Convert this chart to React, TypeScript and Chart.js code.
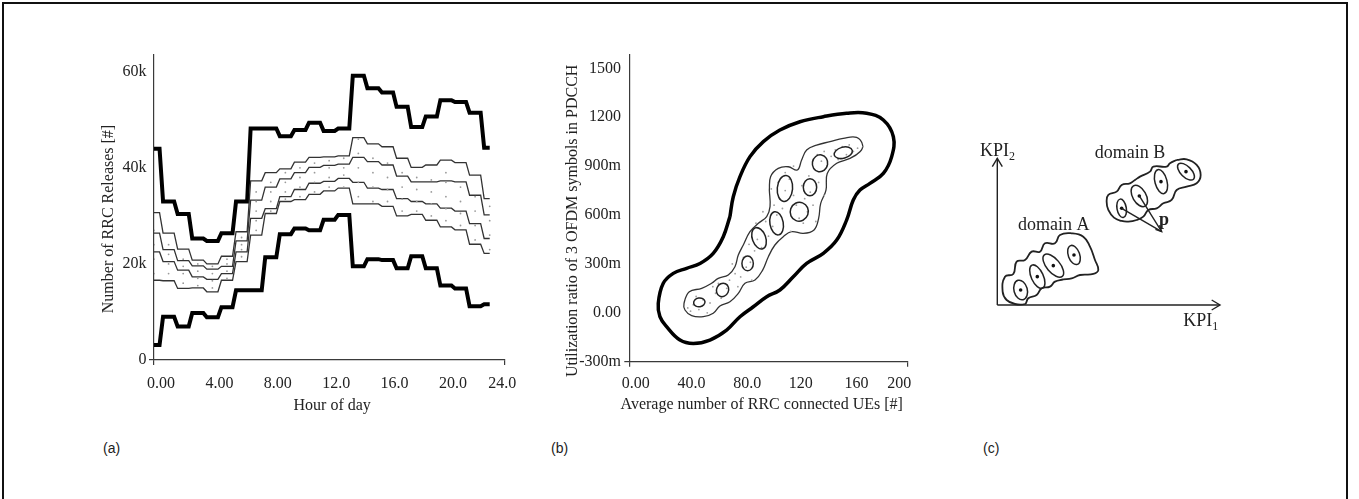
import React, { useEffect, useRef } from "react";
import { Chart, registerables } from "chart.js";

Chart.register(...registerables);

const SERIF = '"Liberation Serif", "Times New Roman", Times, serif';
const SANS = '"Liberation Sans", Arial, Helvetica, sans-serif';
const TEXT = "#222";
const AXIS = "#3a3a3a";

// ---------------- Panel (a): RRC releases per hour (thousands) ----------------
const HOURS = [0, 1, 2, 3, 4, 5, 6, 7, 8, 9, 10, 11, 12, 13, 14, 15, 16, 17, 18, 19, 20, 21, 22, 23];
const RELEASES_MAX = [44.0, 33.0, 30.4, 25.3, 24.8, 26.4, 33.0, 48.2, 48.2, 46.6, 47.9, 49.4, 47.7, 48.2, 59.2, 56.6, 55.7, 52.7, 48.5, 50.7, 54.1, 53.7, 51.5, 44.2];
const RELEASES_UPPER = [30.7, 26.4, 23.1, 20.8, 20.0, 21.6, 26.7, 37.3, 39.0, 39.8, 41.2, 42.2, 42.3, 42.5, 46.3, 45.0, 44.4, 42.0, 40.1, 40.6, 41.6, 41.1, 38.5, 33.6];
const RELEASES_UPPER_MID = [26.4, 23.0, 20.7, 19.6, 18.9, 19.5, 24.8, 33.3, 36.0, 37.7, 39.0, 40.1, 40.5, 40.8, 42.2, 41.3, 40.6, 38.3, 37.1, 37.1, 37.3, 37.1, 34.3, 30.2];
const RELEASES_LOWER_MID = [22.5, 20.5, 18.7, 17.3, 16.8, 18.0, 22.5, 29.5, 31.5, 34.0, 35.5, 36.8, 37.2, 37.8, 37.0, 35.8, 35.5, 33.6, 33.0, 32.5, 31.6, 31.0, 28.4, 25.3];
const RELEASES_LOWER = [16.6, 16.5, 14.9, 15.0, 14.2, 16.6, 20.5, 26.0, 30.5, 33.0, 33.4, 34.5, 35.2, 35.8, 32.5, 32.5, 32.0, 30.0, 30.3, 29.1, 27.7, 27.1, 24.1, 22.2];
const RELEASES_MIN = [3.1, 9.0, 7.0, 9.8, 8.9, 11.0, 14.5, 14.5, 21.4, 26.2, 27.4, 27.0, 29.2, 30.2, 19.5, 21.0, 20.8, 19.1, 21.6, 19.1, 15.5, 14.9, 11.2, 11.6];
const RELEASES_SAMPLES = [
  [18, 21, 24, 27], [18, 20, 22, 24], [16, 18, 19.5, 21], [15.5, 17, 18.5, 20],
  [15, 16.5, 18, 19.5], [17, 18.5, 20, 21], [21.5, 23, 24, 25.5], [27, 29, 31, 33, 35],
  [31, 33, 35, 37], [33.5, 35, 37, 39], [34, 36, 38, 40], [35, 37, 39, 41],
  [36, 38, 40, 41.5], [36, 38.5, 40, 42], [34, 37, 40, 43, 46], [33, 36, 39, 42],
  [33, 35.5, 38, 41], [31, 33.5, 36, 39], [31, 33, 35.5, 38], [30, 32.5, 35, 37.5],
  [29, 31.5, 34, 37, 39], [28, 30.5, 33, 36], [25, 28, 31, 34], [23, 26, 29, 32],
];
const HOUR_TICKS = [0, 4, 8, 12, 16, 20, 24];
const HOUR_TICK_LABELS = ["0.00", "4.00", "8.00", "12.0", "16.0", "20.0", "24.0"];
const RELEASE_TICKS = [0, 20, 40, 60];
const RELEASE_TICK_LABELS = ["0", "20k", "40k", "60k"];

// ---------------- Panel (b): density contours ----------------
const UE_TICKS = [0, 40, 80, 120, 160, 200];
const UE_TICK_LABELS = ["0.00", "40.0", "80.0", "120", "160", "200"];
const UTIL_TICKS = [-0.3, 0, 0.3, 0.6, 0.9, 1.2, 1.5];
const UTIL_TICK_LABELS = ["-300m", "0.00", "300m", "600m", "900m", "1200", "1500"];
const OUTER_CONTOUR: [number, number][] = [
  [72.3, 0.59], [74.7, 0.712], [79.5, 0.835], [86.7, 0.958], [96.3, 1.05], [108.2, 1.121], [122.6, 1.172],
  [139.4, 1.203], [156.1, 1.224], [170.5, 1.224], [182.5, 1.183], [189.7, 1.08], [188.5, 0.958], [182.5, 0.855],
  [172.9, 0.794], [165.7, 0.753], [160.9, 0.692], [156.1, 0.569], [149.0, 0.446], [139.4, 0.365], [127.4, 0.303],
  [117.8, 0.221], [108.2, 0.14], [98.7, 0.099], [89.1, 0.037], [79.5, -0.024], [69.9, -0.106], [57.9, -0.167],
  [46.0, -0.188], [36.4, -0.167], [26.8, -0.085], [22.0, -0.024], [20.8, 0.058], [24.4, 0.181], [31.6, 0.242],
  [41.2, 0.273], [50.8, 0.303], [60.3, 0.365], [67.5, 0.467], [72.3, 0.59],
];
const INNER_CONTOUR: [number, number][] = [
  [100.6, 0.753], [101.5, 0.835], [107.0, 0.886], [114.2, 0.896], [120.7, 0.876], [123.8, 0.937], [127.4, 0.999],
  [134.6, 1.029], [144.2, 1.05], [153.7, 1.07], [163.3, 1.076], [167.6, 1.029], [165.7, 0.988], [158.5, 0.947],
  [149.0, 0.917], [142.2, 0.855], [141.3, 0.753], [137.5, 0.671], [136.0, 0.579], [132.7, 0.508], [125.0, 0.487],
  [116.6, 0.498], [110.6, 0.467], [104.6, 0.416], [99.9, 0.344], [95.8, 0.262], [90.3, 0.201], [83.1, 0.181],
  [78.3, 0.119], [72.3, 0.068], [65.1, 0.042], [60.3, -0.003], [53.2, -0.024], [44.8, -0.018], [40.0, 0.017],
  [39.3, 0.058], [43.1, 0.129], [52.0, 0.15], [59.1, 0.181], [63.9, 0.211], [71.1, 0.232], [75.9, 0.283],
  [78.3, 0.354], [81.9, 0.416], [86.7, 0.498], [92.7, 0.549], [98.7, 0.59], [101.1, 0.651], [100.6, 0.753],
];
const CORE_X = [50.3, 67.0, 85.0, 93.2, 105.8, 111.8, 122.1, 129.8, 137.0, 153.7];
const CORE_Y = [0.064, 0.14, 0.303, 0.457, 0.549, 0.763, 0.62, 0.77, 0.917, 0.982];
const CORE_RX = [4.1, 4.3, 4.1, 4.8, 4.8, 5.5, 6.5, 4.8, 5.5, 6.7];
const CORE_RY = [0.027, 0.042, 0.045, 0.068, 0.072, 0.08, 0.058, 0.052, 0.052, 0.034];
const CORE_TILT = [-10, 25, 0, -20, -10, 5, 20, 0, 10, -15];
const UE_POINTS: [number, number][] = [
  [42, 0.03], [46, 0.05], [50, 0.02], [53, 0.08], [48, 0.1], [58, 0.06], [62, 0.12], [66, 0.09], [70, 0.15],
  [64, 0.18], [72, 0.2], [76, 0.24], [80, 0.22], [84, 0.28], [82, 0.34], [87, 0.31], [90, 0.38], [86, 0.42],
  [92, 0.45], [95, 0.4], [96, 0.5], [100, 0.47], [98, 0.56], [103, 0.53], [106, 0.6], [104, 0.66], [108, 0.7],
  [110, 0.64], [112, 0.75], [107, 0.8], [115, 0.82], [118, 0.72], [120, 0.66], [122, 0.58], [125, 0.55],
  [128, 0.62], [126, 0.7], [124, 0.78], [130, 0.74], [132, 0.66], [129, 0.84], [133, 0.88], [136, 0.8],
  [138, 0.93], [135, 0.97], [140, 0.99], [142, 0.9], [145, 0.96], [148, 1.0], [150, 0.94], [153, 1.02],
  [156, 0.97], [158, 1.03], [161, 0.99], [164, 1.01], [168, 1.02], [118, 0.9], [112, 0.86], [102, 0.76],
  [96, 0.62], [91, 0.55], [88, 0.2], [78, 0.16], [74, 0.3], [56, 0.0], [44, 0.01], [60, 0.16], [140, 0.72],
  [134, 0.56], [116, 0.5],
];

// ---------------- Panel (c): schematic (abstract units) ----------------
const KPI2_AXIS: [number, number][] = [[0, 0], [0, 440]];
const KPI1_AXIS: [number, number][] = [[0, 0], [668, 0]];
const KPI2_HEAD: [number, number][] = [[-15, 415], [0, 440], [15, 415]];
const KPI1_HEAD: [number, number][] = [[643, 15], [668, 0], [643, -15]];
const DOMAIN_A: [number, number][] = [
  [198, 77], [173, 70], [158, 55], [133, 50], [118, 30], [93, 20], [83, 3], [53, 3], [28, 15], [16, 40],
  [23, 85], [48, 93], [58, 130], [83, 135], [103, 160], [128, 160], [143, 185], [173, 185], [188, 210],
  [223, 215], [258, 205], [278, 175], [293, 135], [303, 105], [288, 93], [248, 90], [223, 80], [198, 77],
];
const DOMAIN_B: [number, number][] = [
  [538, 435], [568, 437], [598, 420], [610, 390], [598, 365], [568, 355], [538, 345], [523, 315], [498, 305],
  [478, 290], [453, 285], [438, 265], [418, 255], [393, 250], [373, 252], [350, 262], [333, 285], [328, 310],
  [333, 330], [358, 340], [373, 360], [398, 365], [413, 375], [428, 385], [458, 400], [468, 415], [508, 415],
  [518, 425], [538, 435],
];
const STATE_X = [70, 120, 168, 230, 373, 426, 491, 566];
const STATE_Y = [45, 85, 118, 150, 290, 327, 370, 400];
const STATE_RX = [20, 18, 20, 17, 14, 20, 18, 16];
const STATE_RY = [30, 38, 42, 30, 28, 35, 37, 32];
const STATE_TILT = [-15, -25, -40, -20, -10, -30, -15, -45];
const P_TIP: [number, number] = [493, 220];
const P_HEAD: [number, number][] = [[474.3, 227.1], [493, 220], [486.4, 238.9]];

const pts = (arr: [number, number][]) => arr.map(([x, y]) => ({ x, y }));

function stepPoints(values: number[]) {
  const half = 0.38;
  const first = HOURS[0];
  const last = HOURS[HOURS.length - 1];
  const out: { x: number; y: number }[] = [];
  values.forEach((v, i) => {
    const h = HOURS[i];
    out.push({ x: Math.max(first, h - half), y: v });
    out.push({ x: Math.min(last, h + half), y: v });
  });
  return out;
}

function endTicks(show: (v: number) => boolean) {
  return {
    display: true,
    drawOnChartArea: false,
    drawTicks: true,
    tickLength: 5,
    lineWidth: 1.2,
    color: (c: any) => (c.tick && show(c.tick.value) ? AXIS : "rgba(0,0,0,0)"),
  };
}

function axisTitles(xText: string, xdx: number, xdy: number, yText: string, ydx: number, ydy: number) {
  return {
    id: "axisTitles",
    afterDraw(chart: any) {
      const { ctx, chartArea: a } = chart;
      ctx.save();
      ctx.fillStyle = TEXT;
      ctx.font = `16px ${SERIF}`;
      ctx.textAlign = "center";
      ctx.textBaseline = "middle";
      ctx.fillText(xText, (a.left + a.right) / 2 + xdx, a.bottom + xdy);
      ctx.translate(a.left + ydx, (a.top + a.bottom) / 2 + ydy);
      ctx.rotate(-Math.PI / 2);
      ctx.fillText(yText, 0, 0);
      ctx.restore();
    },
  };
}

// x tick labels: left-aligned slightly before each tick, last one centred near its tick
function xTickLabels(values: number[], labels: string[], startOffset: number, lastOffset: number, dy: number) {
  return {
    id: "xTickLabels",
    afterDraw(chart: any) {
      const { ctx, chartArea: a, scales } = chart;
      ctx.save();
      ctx.fillStyle = TEXT;
      ctx.font = `16px ${SERIF}`;
      ctx.textBaseline = "middle";
      values.forEach((v, i) => {
        const px = scales.x.getPixelForValue(v);
        if (i === values.length - 1) {
          ctx.textAlign = "center";
          ctx.fillText(labels[i], px + lastOffset, a.bottom + dy);
        } else {
          ctx.textAlign = "left";
          ctx.fillText(labels[i], px + startOffset, a.bottom + dy);
        }
      });
      ctx.restore();
    },
  };
}

function ellipses(xs: number[], ys: number[], rxs: number[], rys: number[], tilts: number[], color: string, width: number) {
  return {
    id: "ellipses",
    afterDatasetsDraw(chart: any) {
      const { ctx, scales } = chart;
      const sx = scales.x, sy = scales.y;
      const kx = Math.abs(sx.getPixelForValue(1) - sx.getPixelForValue(0));
      const ky = Math.abs(sy.getPixelForValue(1) - sy.getPixelForValue(0));
      ctx.save();
      ctx.strokeStyle = color;
      ctx.lineWidth = width;
      xs.forEach((x, i) => {
        ctx.beginPath();
        ctx.ellipse(sx.getPixelForValue(x), sy.getPixelForValue(ys[i]), rxs[i] * kx, rys[i] * ky, (tilts[i] * Math.PI) / 180, 0, Math.PI * 2);
        ctx.stroke();
      });
      ctx.restore();
    },
  };
}

const baseOptions = {
  animation: false as const,
  responsive: false,
  maintainAspectRatio: false,
  events: [] as any[],
  plugins: { legend: { display: false }, tooltip: { enabled: false } },
};

function tickFont() {
  return { family: SERIF, size: 16 };
}

function configA(): any {
  const line = (data: number[], w: number, c: string) => ({
    data: stepPoints(data), showLine: true, borderColor: c, borderWidth: w, pointRadius: 0, fill: false, tension: 0,
    borderJoinStyle: "miter",
  });
  return {
    type: "scatter",
    data: {
      datasets: [
        {
          data: HOURS.flatMap((h, i) => RELEASES_SAMPLES[i].map((v) => ({ x: h, y: v }))),
          pointRadius: 0.9, pointBackgroundColor: "#9a9a9a", pointBorderWidth: 0, showLine: false,
        },
        line(RELEASES_UPPER, 1.3, "#333"),
        line(RELEASES_UPPER_MID, 1.3, "#333"),
        line(RELEASES_LOWER_MID, 1.3, "#333"),
        line(RELEASES_LOWER, 1.3, "#333"),
        line(RELEASES_MAX, 4, "#000"),
        line(RELEASES_MIN, 4, "#000"),
      ],
    },
    options: {
      ...baseOptions,
      layout: { padding: { left: 10, right: 25.7, top: 15, bottom: 0 } },
      scales: {
        x: {
          type: "linear", min: 0, max: 24,
          afterBuildTicks: (s: any) => { s.ticks = HOUR_TICKS.map((v) => ({ value: v })); },
          afterFit: (s: any) => { s.height = 80; },
          ticks: { display: false, autoSkip: false },
          grid: endTicks((v) => v === 0 || v === 24),
          border: { display: true, color: AXIS, width: 1.2 },
        },
        y: {
          type: "linear", min: 0, max: 63.5,
          afterBuildTicks: (s: any) => { s.ticks = RELEASE_TICKS.map((v) => ({ value: v })); },
          afterFit: (s: any) => { s.width = 104; },
          ticks: { callback: (_v: any, i: number) => RELEASE_TICK_LABELS[i], font: tickFont(), color: TEXT, padding: 2.5, autoSkip: false },
          grid: endTicks((v) => v === 0),
          border: { display: true, color: AXIS, width: 1.2 },
        },
      },
    },
    plugins: [
      xTickLabels(HOUR_TICKS, HOUR_TICK_LABELS, -7, -2, 23.3),
      axisTitles("Hour of day", 3, 46, "Number of RRC Releases [#]", -45.5, 11.5),
    ],
  };
}

function configB(): any {
  return {
    type: "scatter",
    data: {
      datasets: [
        { data: pts(UE_POINTS), pointRadius: 0.9, pointBackgroundColor: "#a0a0a0", pointBorderWidth: 0, showLine: false },
        { data: pts(INNER_CONTOUR), showLine: true, borderColor: "#333", borderWidth: 1.3, pointRadius: 0, tension: 0.4, fill: false },
        { data: pts(OUTER_CONTOUR), showLine: true, borderColor: "#000", borderWidth: 3.5, pointRadius: 0, tension: 0.4, fill: false },
      ],
    },
    options: {
      ...baseOptions,
      layout: { padding: { left: 10, right: 32.3, top: 15, bottom: 0 } },
      scales: {
        x: {
          type: "linear", min: 0, max: 200,
          afterBuildTicks: (s: any) => { s.ticks = UE_TICKS.map((v) => ({ value: v })); },
          afterFit: (s: any) => { s.height = 78.3; },
          ticks: { display: false, autoSkip: false },
          grid: endTicks((v) => v === 0 || v === 200),
          border: { display: true, color: AXIS, width: 1.2 },
        },
        y: {
          type: "linear", min: -0.3, max: 1.5816,
          afterBuildTicks: (s: any) => { s.ticks = UTIL_TICKS.map((v) => ({ value: v })); },
          afterFit: (s: any) => { s.width = 79.3; },
          ticks: { callback: (_v: any, i: number) => UTIL_TICK_LABELS[i], font: tickFont(), color: TEXT, padding: 3.3, autoSkip: false },
          grid: endTicks((v) => v === -0.3),
          border: { display: true, color: AXIS, width: 1.2 },
        },
      },
    },
    plugins: [
      ellipses(CORE_X, CORE_Y, CORE_RX, CORE_RY, CORE_TILT, "#222", 1.5),
      xTickLabels(UE_TICKS, UE_TICK_LABELS, -7.5, -8.5, 21.6),
      axisTitles("Average number of RRC connected UEs [#]", -6.8, 43.3, "Utilization ratio of 3 OFDM symbols in PDCCH", -57, 12.5),
    ],
  };
}

const schematicLabels = {
  id: "schematicLabels",
  afterDraw(chart: any) {
    const { ctx, scales } = chart;
    const sx = scales.x, sy = scales.y;
    ctx.save();
    ctx.fillStyle = TEXT;
    ctx.textBaseline = "middle";
    const kpi = (sub: string, X: number, Y: number) => {
      const px = sx.getPixelForValue(X), py = sy.getPixelForValue(Y);
      ctx.font = `18px ${SERIF}`;
      ctx.textAlign = "left";
      ctx.fillText("KPI", px, py);
      const w = ctx.measureText("KPI").width;
      ctx.font = `12px ${SERIF}`;
      ctx.fillText(sub, px + w, py + 5);
    };
    kpi("2", -52, 460);
    kpi("1", 558, -50);
    ctx.font = `18px ${SERIF}`;
    ctx.textAlign = "center";
    ctx.fillText("domain A", sx.getPixelForValue(169), sy.getPixelForValue(240));
    ctx.fillText("domain B", sx.getPixelForValue(398), sy.getPixelForValue(455));
    ctx.font = `bold 18px ${SERIF}`;
    ctx.fillText("p", sx.getPixelForValue(500), sy.getPixelForValue(253));
    ctx.restore();
  },
};

function configC(): any {
  const ln = (arr: [number, number][], w = 1.4, tension = 0) => ({
    data: pts(arr), showLine: true, borderColor: "#222", borderWidth: w, pointRadius: 0, tension, fill: false, clip: false,
  });
  return {
    type: "scatter",
    data: {
      datasets: [
        ln(KPI2_AXIS), ln(KPI1_AXIS), ln(KPI2_HEAD), ln(KPI1_HEAD),
        ln(DOMAIN_A, 1.8, 0.45), ln(DOMAIN_B, 1.8, 0.45),
        ln([[STATE_X[4], STATE_Y[4]], P_TIP]), ln([[STATE_X[5], STATE_Y[5]], P_TIP]), ln(P_HEAD),
        {
          data: STATE_X.map((x, i) => ({ x, y: STATE_Y[i] })), showLine: false, pointRadius: 1.8,
          pointBackgroundColor: "#111", pointBorderWidth: 0, clip: false,
        },
      ],
    },
    options: {
      ...baseOptions,
      layout: { padding: { left: 57.3, right: 40, top: 58.3, bottom: 55 } },
      scales: {
        x: { type: "linear", min: 0, max: 668, display: false },
        y: { type: "linear", min: 0, max: 440, display: false },
      },
    },
    plugins: [ellipses(STATE_X, STATE_Y, STATE_RX, STATE_RY, STATE_TILT, "#222", 1.5), schematicLabels],
  };
}

function ChartCanvas({ make, left, top, width, height }: { make: () => any; left: number; top: number; width: number; height: number }) {
  const ref = useRef<HTMLCanvasElement>(null);
  useEffect(() => {
    const chart = new Chart(ref.current as HTMLCanvasElement, make());
    return () => chart.destroy();
  }, []);
  return (
    <canvas
      ref={ref}
      width={width}
      height={height}
      style={{ position: "absolute", left, top, width, height }}
    />
  );
}

const panelLabel = (text: string, left: number) => (
  <div style={{ position: "absolute", left, top: 440, fontFamily: SANS, fontSize: 14, lineHeight: "16px", color: TEXT }}>{text}</div>
);

export default function App() {
  return (
    <div style={{ position: "absolute", left: 0, top: 0, width: 1359, height: 499, overflow: "hidden", background: "#fff" }}>
      <div
        style={{
          position: "absolute", left: 2, top: 2, width: 1346, height: 600, boxSizing: "border-box",
          borderTop: "2px solid #111", borderLeft: "2px solid #111", borderRight: "2px solid #111",
        }}
      />
      <ChartCanvas make={configA} left={40} top={40} width={490} height={400} />
      <ChartCanvas make={configB} left={540} top={40} width={400} height={400} />
      <ChartCanvas make={configC} left={940} top={100} width={320} height={260} />
      {panelLabel("(a)", 103)}
      {panelLabel("(b)", 551)}
      {panelLabel("(c)", 983)}
    </div>
  );
}
